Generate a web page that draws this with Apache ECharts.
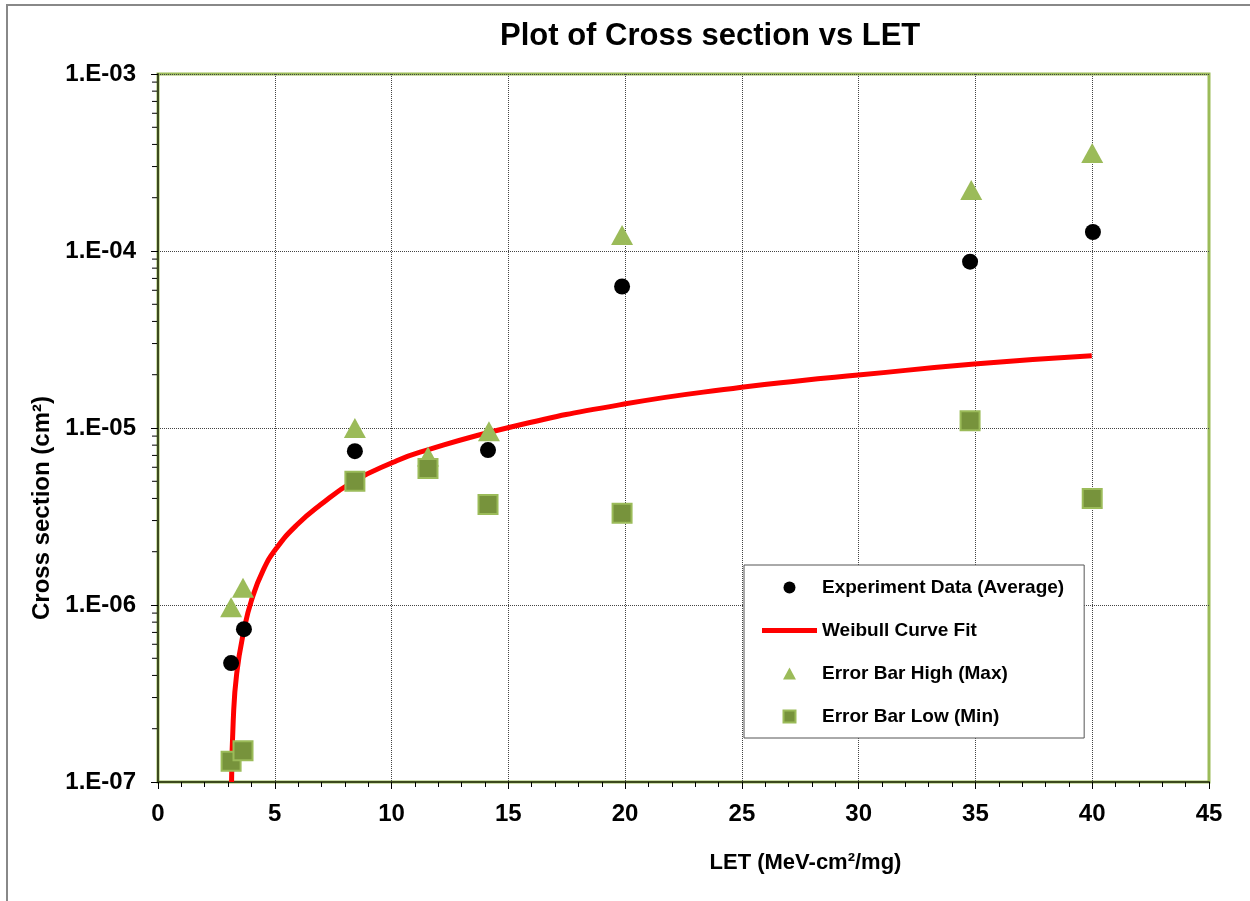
<!DOCTYPE html>
<html lang="en">
<head>
    <meta charset="UTF-8">
    <title>Plot of Cross section vs LET</title>
    <style>
        html, body { margin: 0; padding: 0; background: #fff; }
        #main { width: 1250px; height: 901px; }
    </style>
</head>
<body>
    <div id="main"></div>
    <script src="https://cdn.jsdelivr.net/npm/echarts@6/dist/echarts.min.js"></script>
    <script>
        // experiment data
        var letAvg = [3.13, 3.68, 8.43, 14.13, 19.87, 34.77, 40.03];
        var sigmaAvg = [4.7e-7, 7.3e-7, 7.4e-6, 7.5e-6, 6.3e-5, 8.7e-5, 1.28e-4];

        var letMax = [3.13, 3.64, 8.43, 11.56, 14.17, 19.87, 34.82, 40.0];
        var sigmaMax = [9.7e-7, 1.25e-6, 1.0e-5, 6.9e-6, 9.6e-6, 1.23e-4, 2.21e-4, 3.58e-4];

        var letMin = [3.13, 3.64, 8.43, 11.56, 14.13, 19.87, 34.77, 40.0];
        var sigmaMin = [1.31e-7, 1.5e-7, 5.0e-6, 5.9e-6, 3.7e-6, 3.3e-6, 1.1e-5, 4.0e-6];

        // weibull fit curve
        var fitLet = [3.15, 3.22, 3.37, 3.68, 4.01, 4.51, 5.08, 5.94, 6.94, 8.36, 10.07, 11.22, 15.07, 20.02, 24.99, 27.49, 29.98, 34.95, 39.98];
        var fitSigma = [1.0e-7, 2.2e-7, 4.1e-7, 7.2e-7, 1.07e-6, 1.58e-6, 2.1e-6, 2.83e-6, 3.67e-6, 4.98e-6, 6.4e-6, 7.3e-6, 1.01e-5, 1.37e-5, 1.70e-5, 1.85e-5, 1.99e-5, 2.30e-5, 2.56e-5];

        var yTickLabels = ['1.E-07', '1.E-06', '1.E-05', '1.E-04', '1.E-03'];
        var yDecades = [-7, -6, -5, -4, -3];

        function pairs(xs, ys) {
            return xs.map(function (x, i) { return [x, ys[i]]; });
        }

        // minor ticks of the log axis (2..9 in each decade)
        var minorTicks = [];
        yDecades.slice(0, 4).forEach(function (e) {
            for (var k = 2; k <= 9; k++) minorTicks.push([0, k * Math.pow(10, e)]);
        });

        var font = 'Liberation Sans';
        var myChart = echarts.init(document.getElementById('main'));

        var option = {
            animation: false,
            graphic: [{
                type: 'rect',
                shape: { x: 7, y: 5, width: 1400, height: 1000 },
                style: { fill: 'none', stroke: '#888', lineWidth: 2 },
                silent: true
            }],
            title: {
                text: 'Plot of Cross section vs LET',
                left: 500,
                top: 21,
                padding: 0,
                textStyle: { fontFamily: font, fontWeight: 'bold', fontSize: 31, color: '#000' }
            },
            legend: {
                orient: 'vertical',
                left: 744,
                top: 565,
                padding: [13, 20, 12, 18],
                itemWidth: 55,
                itemHeight: 12,
                itemGap: 24,
                symbolKeepAspect: true,
                backgroundColor: '#fff',
                borderColor: '#555',
                borderWidth: 1,
                borderRadius: 0,
                textStyle: { fontFamily: font, fontWeight: 'bold', fontSize: 19, color: '#000' },
                data: [
                    { name: 'Experiment Data (Average)', icon: 'circle' },
                    { name: 'Weibull Curve Fit', icon: 'path://M0,0 L55,0 L55,5 L0,5 Z' },
                    { name: 'Error Bar High (Max)', icon: 'path://M7,0 L14,13 L0,13 Z' },
                    { name: 'Error Bar Low (Min)', icon: 'path://M0,0 L12,0 L12,12 L0,12 Z' }
                ]
            },
            grid: {
                left: 158, top: 74, right: 41, bottom: 119,
                show: true,
                borderColor: '#9BBB59',
                borderWidth: 3,
                backgroundColor: '#fff'
            },
            xAxis: {
                type: 'value',
                min: 0,
                max: 45,
                interval: 5,
                name: 'LET (MeV-cm²/mg)',
                nameLocation: 'middle',
                nameGap: 70,
                nameTextStyle: { fontFamily: font, fontWeight: 'bold', fontSize: 22, color: '#000', padding: [0, 0, 0, 244] },
                axisLine: { onZero: false, lineStyle: { color: '#3d4a1e', width: 2 } },
                axisTick: { length: 7, lineStyle: { color: '#000' } },
                minorTick: { show: true, splitNumber: 5, length: 5, lineStyle: { color: '#000' } },
                axisLabel: { margin: 20, fontFamily: font, fontWeight: 'bold', fontSize: 24, color: '#000' },
                splitLine: { show: true, showMinLine: false, showMaxLine: false, lineStyle: { color: '#444', type: 'dotted', width: 1 } }
            },
            yAxis: {
                type: 'log',
                logBase: 10,
                min: 1e-7,
                max: 1e-3,
                name: 'Cross section (cm²)',
                nameLocation: 'middle',
                nameGap: 103,
                nameTextStyle: { fontFamily: font, fontWeight: 'bold', fontSize: 24, color: '#000', padding: [0, 160, 0, 0] },
                axisLine: { lineStyle: { color: '#3d4a1e', width: 2 } },
                axisTick: { length: 7, lineStyle: { color: '#000' } },
                axisLabel: {
                    margin: 22,
                    fontFamily: font, fontWeight: 'bold', fontSize: 24, color: '#000',
                    formatter: function (v) {
                        var e = Math.round(Math.log10(v));
                        var i = yDecades.indexOf(e);
                        return i >= 0 ? yTickLabels[i] : '';
                    }
                },
                splitLine: { show: true, showMinLine: false, showMaxLine: false, lineStyle: { color: '#444', type: 'dotted', width: 1 } }
            },
            series: [{
                name: 'minor',
                type: 'custom',
                clip: false,
                silent: true,
                data: minorTicks,
                renderItem: function (params, api) {
                    var p = api.coord([api.value(0), api.value(1)]);
                    return {
                        type: 'line',
                        shape: { x1: p[0] - 6, y1: p[1], x2: p[0] - 1, y2: p[1] },
                        style: { stroke: '#000', lineWidth: 1 }
                    };
                }
            }, {
                name: 'Experiment Data (Average)',
                type: 'scatter',
                symbol: 'circle',
                symbolSize: 16,
                itemStyle: { color: '#000', opacity: 1 },
                data: pairs(letAvg, sigmaAvg),
                z: 3
            }, {
                name: 'Weibull Curve Fit',
                type: 'line',
                symbol: 'none',
                smooth: 0.5,
                lineStyle: { color: '#FF0000', width: 5 },
                itemStyle: { color: '#FF0000' },
                data: pairs(fitLet, fitSigma),
                z: 2
            }, {
                name: 'Error Bar High (Max)',
                type: 'scatter',
                symbol: 'triangle',
                symbolSize: [22, 20],
                itemStyle: { color: '#9BBB59', opacity: 1 },
                data: pairs(letMax, sigmaMax),
                z: 4
            }, {
                name: 'Error Bar Low (Min)',
                type: 'scatter',
                symbol: 'rect',
                symbolSize: 19,
                itemStyle: { color: '#77933C', borderColor: '#9BBB59', borderWidth: 2, opacity: 1 },
                data: pairs(letMin, sigmaMin),
                z: 5
            }]
        };
        option && myChart.setOption(option);
    </script>
</body>
</html>
